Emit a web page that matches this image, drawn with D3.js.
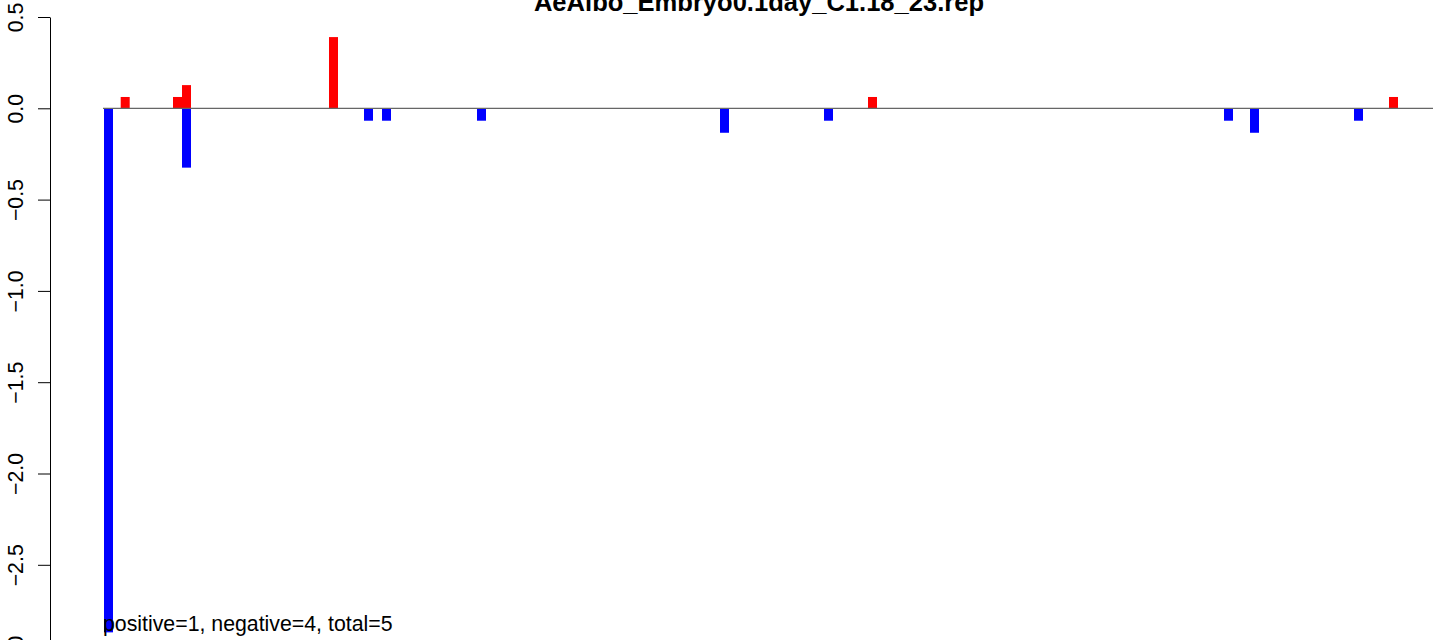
<!DOCTYPE html>
<html>
<head>
<meta charset="utf-8">
<script src="https://cdn.jsdelivr.net/npm/d3@7"></script>
<style>
  html, body { margin: 0; padding: 0; background: #fff; }
  svg { display: block; }
  text { font-family: "Liberation Sans", Arial, Helvetica, sans-serif; }
</style>
</head>
<body>
<svg id="chart" width="1439" height="640"></svg>
<script>
// ---- data ----
const title = "AeAlbo_Embryo0.1day_C1.18_23.rep";
const footnote = "positive=1, negative=4, total=5";
// positions along the x axis (arbitrary position units)
const positions = [5.5, 22.2, 74.5, 83.5, 83.5, 230.5, 265.5, 283.5, 378.5, 621.5, 725.5, 769.5, 1125.5, 1151.5, 1255.5, 1290.5];
const values    = [-2.87, 0.062, 0.062, 0.127, -0.325, 0.39, -0.068, -0.068, -0.068, -0.134, -0.068, 0.062, -0.068, -0.134, -0.068, 0.062];
const xDomain = [0, 1330];
const yDomain = [-3, 0.5];
const yTicks = [-3, -2.5, -2, -1.5, -1, -0.5, 0, 0.5];

// ---- layout ----
const svg = d3.select("#chart");
const x = d3.scaleLinear().domain(xDomain).range([103, 1433]);
const y = d3.scaleLinear().domain(yDomain).range([656.1, 17]);
const barW = 9;
const fontSize = 21.3;

// bars
svg.append("g").selectAll("rect")
  .data(positions.map((p, i) => ({p, v: values[i]})))
  .join("rect")
  .attr("x", d => x(d.p) - barW / 2)
  .attr("width", barW)
  .attr("y", d => y(Math.max(0, d.v)))
  .attr("height", d => Math.abs(y(d.v) - y(0)))
  .attr("fill", d => d.v >= 0 ? "#ff0000" : "#0000ff");

// baseline at 0
svg.append("line")
  .attr("x1", x(xDomain[0])).attr("x2", x(xDomain[1]))
  .attr("y1", y(0)).attr("y2", y(0))
  .attr("stroke", "#666").attr("stroke-width", 1.3);

// y axis
const yAxis = d3.axisLeft(y).tickValues(yTicks).tickFormat(d3.format(".1f"))
  .tickSize(12).tickSizeOuter(0).tickPadding(0);
const gy = svg.append("g").attr("transform", "translate(50,0)").call(yAxis);
gy.select(".domain").attr("stroke", "#000").attr("stroke-width", 1);
gy.selectAll(".tick line").attr("stroke", "#000").attr("stroke-width", 1);
gy.selectAll(".tick text")
  .attr("x", null).attr("dy", null)
  .attr("transform", "translate(-27.5,0) rotate(-90)")
  .attr("text-anchor", "middle")
  .attr("fill", "#000")
  .style("font-size", fontSize + "px")
  .style("font-family", "'Liberation Sans', Arial, sans-serif");

// title
svg.append("text")
  .attr("x", 759).attr("y", 10.5)
  .attr("text-anchor", "middle")
  .style("font-size", (fontSize * 1.2) + "px")
  .style("font-weight", "bold")
  .text(title);

// footnote
svg.append("text")
  .attr("x", 103).attr("y", 631)
  .style("font-size", fontSize + "px")
  .text(footnote);
</script>
</body>
</html>
